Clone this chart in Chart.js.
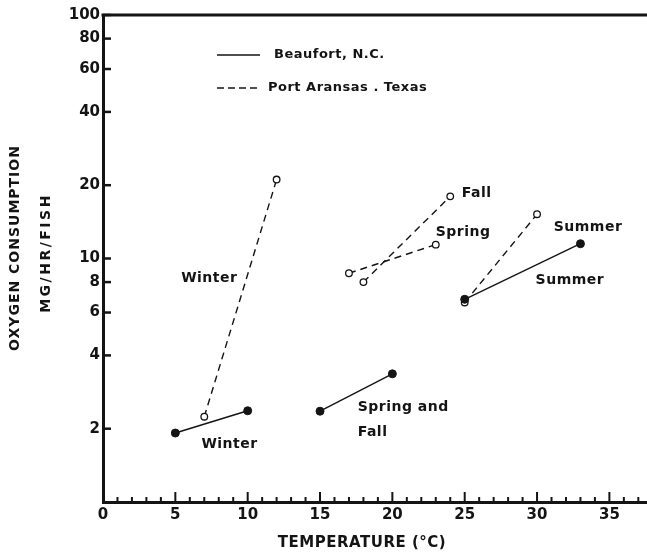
<!DOCTYPE html>
<html>
<head>
<meta charset="utf-8">
<script src="https://cdn.jsdelivr.net/npm/chart.js@4/dist/chart.umd.min.js"></script>
<style>
  html, body { margin: 0; padding: 0; background: #ffffff; overflow: hidden; }
  #wrap { width: 647px; height: 554px; }
</style>
</head>
<body>
<div id="wrap"><canvas id="c" width="647" height="554"></canvas></div>
<script>
// ---- data ----
const beaufortWinterTemp = [5, 10];
const beaufortWinterO2   = [1.92, 2.37];
const beaufortSpringFallTemp = [15, 20];
const beaufortSpringFallO2   = [2.36, 3.36];
const beaufortSummerTemp = [25, 33];
const beaufortSummerO2   = [6.8, 11.5];

const aransasWinterTemp = [7, 12];
const aransasWinterO2   = [2.24, 21.1];
const aransasSpringTemp = [17, 23];
const aransasSpringO2   = [8.7, 11.4];
const aransasFallTemp = [18, 24];
const aransasFallO2   = [8.0, 18.0];
const aransasSummerTemp = [25, 30];
const aransasSummerO2   = [6.6, 15.2];

const xTickValues = [0, 5, 10, 15, 20, 25, 30, 35];
const xMinorValues = [0,1,2,3,4,5,6,7,8,9,10,11,12,13,14,15,16,17,18,19,20,21,22,23,24,25,26,27,28,29,30,31,32,33,34,35,36,37];
const yTickValues = [2, 4, 6, 8, 10, 20, 40, 60, 80, 100];

const legendLabels = ['Beaufort, N.C.', 'Port Aransas . Texas'];
const xTitle = 'TEMPERATURE (°C)';
const yTitle = ['OXYGEN CONSUMPTION', 'MG/HR/FISH'];

// ---- helpers ----
function pts(xs, ys) { return xs.map((x, i) => ({ x: x, y: ys[i] })); }

const INK = '#141414';
const FONT = '"DejaVu Sans", sans-serif';

function beaufort(xs, ys) {
  return {
    data: pts(xs, ys), showLine: true, borderColor: INK, borderWidth: 1.4,
    pointRadius: 4, pointBackgroundColor: INK, pointBorderColor: INK, pointBorderWidth: 1,
    order: 0
  };
}
function aransas(xs, ys) {
  return {
    data: pts(xs, ys), showLine: true, borderColor: INK, borderWidth: 1.4, borderDash: [7, 5],
    pointRadius: 3.3, pointBackgroundColor: '#ffffff', pointBorderColor: INK, pointBorderWidth: 1.3,
    order: 1
  };
}

// text annotations placed in data coordinates (temperature, O2)
const notes = [
  { text: 'Winter', x: 5.4, y: 8.3 },
  { text: 'Winter', x: 6.8, y: 1.72 },
  { text: 'Spring and', x: 17.6, y: 2.44 },
  { text: 'Fall', x: 17.6, y: 1.94 },
  { text: 'Fall', x: 24.8, y: 18.5 },
  { text: 'Spring', x: 23.0, y: 12.8 },
  { text: 'Summer', x: 31.15, y: 13.4 },
  { text: 'Summer', x: 29.9, y: 8.1 }
];

const decor = {
  id: 'decor',
  afterDraw(chart) {
    const ctx = chart.ctx;
    const xs = chart.scales.x, ys = chart.scales.y;
    const a = chart.chartArea;
    ctx.save();
    ctx.strokeStyle = INK;
    ctx.fillStyle = INK;
    // top frame line
    ctx.lineWidth = 3;
    ctx.beginPath();
    ctx.moveTo(a.left - 1.5, a.top);
    ctx.lineTo(a.right, a.top);
    ctx.stroke();
    // inward y ticks
    ctx.lineWidth = 2.5;
    yTickValues.forEach(v => {
      const py = ys.getPixelForValue(v);
      ctx.beginPath();
      ctx.moveTo(a.left, py);
      ctx.lineTo(a.left + 8, py);
      ctx.stroke();
    });
    // inward x ticks
    xMinorValues.forEach(v => {
      const px = xs.getPixelForValue(v);
      const major = v % 5 === 0;
      ctx.lineWidth = 2;
      ctx.beginPath();
      ctx.moveTo(px, a.bottom);
      ctx.lineTo(px, a.bottom - (major ? 10 : 5));
      ctx.stroke();
    });
    // annotations
    ctx.font = 'bold 14px ' + FONT;
    ctx.textAlign = 'left';
    ctx.textBaseline = 'middle';
    ctx.letterSpacing = '0.5px';
    notes.forEach(n => {
      ctx.fillText(n.text, xs.getPixelForValue(n.x), ys.getPixelForValue(n.y));
    });
    // legend
    ctx.font = 'bold 13px ' + FONT;
    ctx.letterSpacing = '0.5px';
    ctx.lineWidth = 1.4;
    ctx.beginPath();
    ctx.moveTo(217, 55); ctx.lineTo(260, 55);
    ctx.stroke();
    ctx.fillText(legendLabels[0], 274, 55);
    ctx.setLineDash([7, 4]);
    ctx.beginPath();
    ctx.moveTo(217, 88); ctx.lineTo(260, 88);
    ctx.stroke();
    ctx.setLineDash([]);
    ctx.fillText(legendLabels[1], 268, 88);
    // axis titles
    ctx.font = 'bold 15px ' + FONT;
    ctx.letterSpacing = '0.5px';
    ctx.textAlign = 'center';
    ctx.fillText(xTitle, 362, 543);
    ctx.font = 'bold 14px ' + FONT;
    ctx.save();
    ctx.translate(15, 248);
    ctx.rotate(-Math.PI / 2);
    ctx.letterSpacing = '1px';
    ctx.fillText(yTitle[0], 0, 0);
    ctx.restore();
    ctx.save();
    ctx.translate(46.5, 253);
    ctx.rotate(-Math.PI / 2);
    ctx.letterSpacing = '2.5px';
    ctx.fillText(yTitle[1], 0, 0);
    ctx.restore();
    ctx.restore();
  }
};

new Chart(document.getElementById('c'), {
  type: 'scatter',
  data: {
    datasets: [
      beaufort(beaufortWinterTemp, beaufortWinterO2),
      beaufort(beaufortSpringFallTemp, beaufortSpringFallO2),
      beaufort(beaufortSummerTemp, beaufortSummerO2),
      aransas(aransasWinterTemp, aransasWinterO2),
      aransas(aransasSpringTemp, aransasSpringO2),
      aransas(aransasFallTemp, aransasFallO2),
      aransas(aransasSummerTemp, aransasSummerO2)
    ]
  },
  options: {
    responsive: false,
    animation: false,
    devicePixelRatio: 1,
    layout: { autoPadding: false, padding: { left: 0, top: 15, right: 0, bottom: 0 } },
    plugins: { legend: { display: false }, tooltip: { enabled: false } },
    scales: {
      x: {
        type: 'linear', min: 0, max: 37.6,
        grid: { display: false, drawTicks: false },
        border: { display: true, color: INK, width: 3 },
        afterBuildTicks: s => { s.ticks = xTickValues.map(v => ({ value: v })); },
        afterFit: s => { s.height = 52; s.paddingLeft = 0; s.paddingRight = 0; },
        ticks: { color: INK, font: { family: FONT, size: 15, weight: 'bold' }, padding: 4, maxRotation: 0,
                 callback: v => String(v) }
      },
      y: {
        type: 'logarithmic', min: 1, max: 100,
        grid: { display: false, drawTicks: false },
        border: { display: true, color: INK, width: 3 },
        afterBuildTicks: s => { s.ticks = yTickValues.map(v => ({ value: v })); },
        afterFit: s => { s.width = 103; s.paddingTop = 0; s.paddingBottom = 0; },
        ticks: { color: INK, font: { family: FONT, size: 15, weight: 'bold' }, padding: 3,
                 callback: v => String(v) }
      }
    }
  },
  plugins: [decor]
});
</script>
</body>
</html>
